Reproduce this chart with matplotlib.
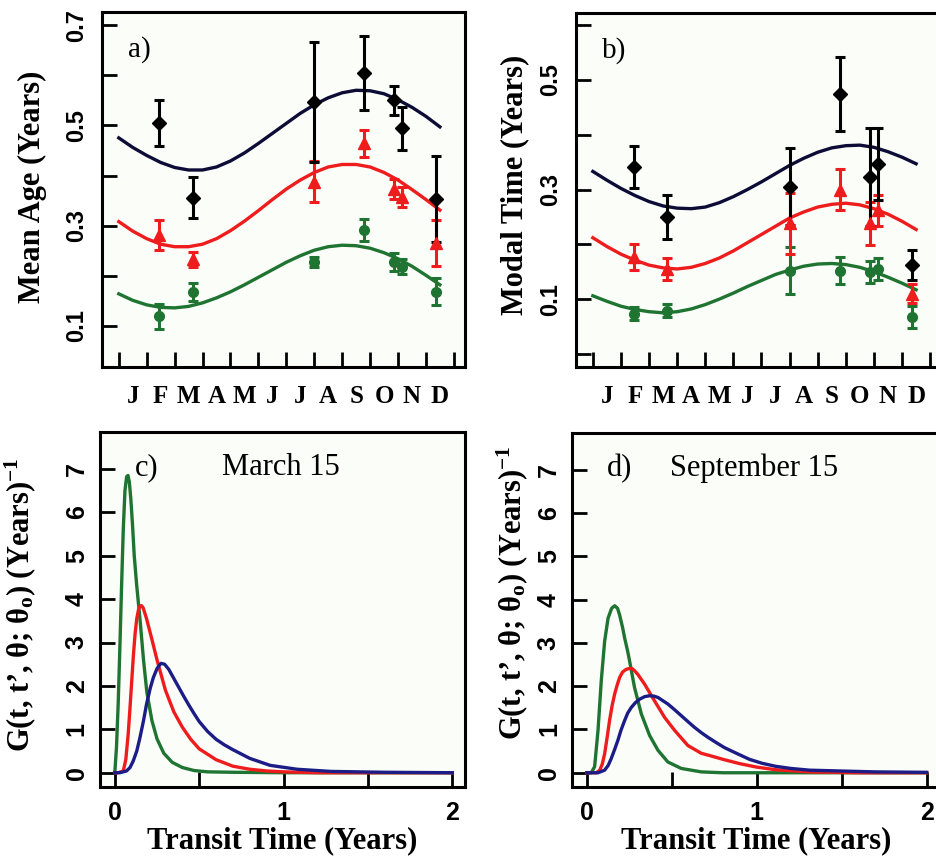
import numpy as np
import matplotlib
matplotlib.use("Agg")
import matplotlib.pyplot as plt

# ===== Data ================================

# months since Jan 1 (0 = Jan 1, 12 = Dec 31)
fit_month = [0, 0.5, 1, 1.5, 2, 2.5, 3, 3.5, 4, 4.5, 5, 5.5, 6, 6.5, 7, 7.5,
             8, 8.5, 9, 9.5, 10, 10.5, 11, 11.5]
obs_month = [1.45, 2.65, 7.0, 8.78, 9.86, 10.15, 11.35]

# a) mean age
a_fit_black = [0.475, 0.456, 0.440, 0.426, 0.416, 0.411, 0.411, 0.417, 0.429, 0.445, 0.464, 0.484,
               0.504, 0.524, 0.541, 0.555, 0.565, 0.570, 0.569, 0.563, 0.551, 0.536, 0.518, 0.497]
a_fit_red = [0.308, 0.289, 0.274, 0.263, 0.258, 0.258, 0.263, 0.274, 0.290, 0.309, 0.330, 0.352,
             0.373, 0.391, 0.406, 0.417, 0.422, 0.422, 0.417, 0.406, 0.391, 0.372, 0.352, 0.331]
a_fit_green = [0.164, 0.151, 0.142, 0.137, 0.136, 0.139, 0.146, 0.156, 0.168, 0.182, 0.197, 0.212,
               0.227, 0.240, 0.251, 0.258, 0.261, 0.260, 0.255, 0.246, 0.234, 0.219, 0.201, 0.182]
a_obs_black = [0.505, 0.356, 0.547, 0.605, 0.550, 0.494, 0.353]
a_err_black = [0.046, 0.041, 0.120, 0.074, 0.029, 0.043, 0.086]
a_obs_red = [0.281, 0.233, 0.388, 0.464, 0.374, 0.358, 0.265]
a_err_red = [0.030, 0.015, 0.040, 0.027, 0.020, 0.020, 0.046]
a_obs_green = [0.119, 0.167, 0.228, 0.291, 0.228, 0.218, 0.168]
a_err_green = [0.025, 0.018, 0.010, 0.022, 0.018, 0.015, 0.027]

# b) modal time
b_fit_black = [0.333, 0.317, 0.302, 0.289, 0.278, 0.270, 0.266, 0.265, 0.268, 0.276, 0.287, 0.300,
               0.314, 0.329, 0.344, 0.357, 0.368, 0.376, 0.380, 0.381, 0.377, 0.369, 0.359, 0.347]
b_fit_red = [0.212, 0.196, 0.182, 0.171, 0.162, 0.157, 0.155, 0.158, 0.165, 0.175, 0.188, 0.203,
             0.218, 0.233, 0.248, 0.259, 0.268, 0.273, 0.275, 0.272, 0.265, 0.255, 0.242, 0.227]
b_fit_green = [0.106, 0.096, 0.087, 0.081, 0.077, 0.075, 0.077, 0.082, 0.090, 0.100, 0.111, 0.123,
               0.134, 0.145, 0.153, 0.160, 0.164, 0.165, 0.163, 0.158, 0.150, 0.140, 0.129, 0.117]
b_obs_black = [0.341, 0.250, 0.305, 0.474, 0.323, 0.346, 0.162]
b_err_black = [0.039, 0.040, 0.070, 0.067, 0.089, 0.066, 0.028]
b_obs_red = [0.177, 0.155, 0.238, 0.300, 0.238, 0.262, 0.110]
b_err_red = [0.023, 0.020, 0.056, 0.037, 0.040, 0.028, 0.018]
b_obs_green = [0.073, 0.079, 0.152, 0.152, 0.149, 0.155, 0.067]
b_err_green = [0.012, 0.012, 0.043, 0.024, 0.020, 0.020, 0.020]

# c) March 15 transit time distributions
c_t_green = [0, 0.01, 0.02, 0.03, 0.04, 0.05, 0.06, 0.07, 0.078, 0.086, 0.095, 0.105, 0.115, 0.13,
             0.15, 0.17, 0.19, 0.22, 0.25, 0.29, 0.34, 0.40, 0.47, 0.55, 0.7, 1.0, 1.5, 2.0]
c_g_green = [0.0, 0.6, 1.6, 2.9, 4.3, 5.6, 6.5, 6.82, 6.85, 6.7, 6.3, 5.7, 5.0, 4.3,
             3.5, 2.6, 1.85, 1.2, 0.78, 0.45, 0.24, 0.12, 0.05, 0.02, 0.01, 0.0, 0.0, 0.0]
c_t_red = [0, 0.02, 0.05, 0.065, 0.079, 0.09, 0.099, 0.11, 0.12, 0.13, 0.14, 0.15, 0.158, 0.168,
           0.188, 0.218, 0.25, 0.30, 0.35, 0.40, 0.45, 0.5, 0.6, 0.7, 0.8, 0.9, 1.0, 1.2, 1.5, 2.0]
c_g_red = [0, 0, 0.04, 0.3, 0.88, 1.5, 2.04, 2.7, 3.2, 3.55, 3.75, 3.84, 3.85, 3.8,
           3.55, 3.1, 2.6, 1.9, 1.4, 1.05, 0.77, 0.55, 0.3, 0.15, 0.08, 0.04, 0.02, 0.0, 0.0, 0.0]
c_t_blue = [0, 0.03, 0.069, 0.09, 0.109, 0.13, 0.149, 0.17, 0.188, 0.21, 0.228, 0.25, 0.273, 0.295,
            0.32, 0.347, 0.38, 0.41, 0.44, 0.47, 0.5, 0.55, 0.6, 0.65, 0.7, 0.75, 0.8, 0.92, 1.08,
            1.28, 1.6, 2.0]
c_g_blue = [0, 0, 0.04, 0.12, 0.27, 0.5, 0.81, 1.2, 1.58, 1.95, 2.19, 2.4, 2.52, 2.5,
            2.38, 2.19, 1.96, 1.75, 1.55, 1.36, 1.18, 0.95, 0.77, 0.64, 0.53, 0.43, 0.33, 0.17, 0.08,
            0.03, 0.01, 0.0]

# d) September 15 transit time distributions
d_t_green = [0, 0.025, 0.045, 0.065, 0.084, 0.104, 0.124, 0.145, 0.163, 0.18, 0.192, 0.21, 0.222,
             0.24, 0.251, 0.28, 0.32, 0.369, 0.418, 0.476, 0.555, 0.673, 0.8, 1.0, 1.5, 2.0]
d_g_green = [0, 0, 0.14, 0.98, 2.12, 3.04, 3.57, 3.8, 3.86, 3.8, 3.65, 3.35, 3.11,
             2.8, 2.58, 1.97, 1.36, 0.86, 0.52, 0.25, 0.1, 0.02, 0.0, 0.0, 0.0, 0.0]
d_t_red = [0, 0.055, 0.075, 0.09, 0.104, 0.12, 0.133, 0.148, 0.163, 0.178, 0.192, 0.21, 0.231,
           0.25, 0.265, 0.28, 0.3, 0.339, 0.398, 0.457, 0.516, 0.594, 0.673, 0.72, 0.81, 0.9, 1.0,
           1.11, 1.31, 1.6, 2.0]
d_g_red = [0, 0, 0.06, 0.2, 0.44, 0.85, 1.21, 1.55, 1.82, 2.03, 2.2, 2.33, 2.39,
           2.41, 2.41, 2.36, 2.27, 2.05, 1.66, 1.28, 0.98, 0.63, 0.45, 0.4, 0.3, 0.21, 0.13,
           0.07, 0.02, 0.0, 0.0]
d_t_blue = [0, 0.065, 0.104, 0.125, 0.143, 0.162, 0.182, 0.2, 0.222, 0.24, 0.261, 0.285, 0.31,
            0.34, 0.369, 0.395, 0.418, 0.445, 0.476, 0.515, 0.555, 0.595, 0.633, 0.672, 0.712,
            0.76, 0.81, 0.88, 0.957, 1.03, 1.11, 1.2, 1.31, 1.5, 1.7, 2.0]
d_g_blue = [0, 0, 0.06, 0.17, 0.33, 0.53, 0.75, 0.98, 1.21, 1.38, 1.51, 1.62, 1.7,
            1.76, 1.78, 1.77, 1.74, 1.67, 1.59, 1.46, 1.32, 1.18, 1.05, 0.93, 0.82,
            0.7, 0.58, 0.45, 0.31, 0.22, 0.15, 0.1, 0.06, 0.04, 0.02, 0.01]

month_letters = ["J", "F", "M", "A", "M", "J", "J", "A", "S", "O", "N", "D"]

# ===== Style ============
NAVY = "#0c0c36"
BLUE = "#1c1c86"
RED = "#ee1c1c"
GREEN = "#1f7432"
SERIF = "Liberation Serif"
SANS = "Liberation Sans"

plt.rcParams["font.family"] = SANS
plt.rcParams["font.weight"] = "bold"
plt.rcParams["mathtext.fontset"] = "custom"
plt.rcParams["mathtext.rm"] = "Liberation Serif:bold"
plt.rcParams["mathtext.it"] = "Liberation Serif:bold"
plt.rcParams["axes.linewidth"] = 2.2


def style_axes(ax, size):
    ax.set_facecolor("#fbfdf9")
    ax.tick_params(which="major", direction="in", length=11, width=2, color="black",
                   labelsize=size)
    ax.tick_params(axis="y", labelrotation=90, pad=10)
    for lab in ax.get_yticklabels():
        lab.set_va("center")


def seasonal_panel(ax, fits, obs, ylabel, ylim, yticks, ylabels, tag, label_x, label_y):
    for (fit, col) in fits:
        ax.plot(fit_month, fit, color=col, lw=2.4, zorder=2)
    for (vals, errs, col, mk, ms) in obs:
        ax.errorbar(obs_month, vals, yerr=errs, fmt=mk, color=col, ms=ms, elinewidth=2.2,
                    capsize=3.8, capthick=2.2, zorder=3)
    ax.set_xlim(-0.6, 12.4)
    ax.set_ylim(*ylim)
    ax.set_xticks(range(13))
    ax.set_xticklabels([])
    ax.set_xticks(np.arange(12) + 0.5, month_letters, minor=True)
    ax.tick_params(axis="x", which="minor", length=0, pad=13, labelsize=18,
                   labelfontfamily=SERIF)
    ax.set_yticks(yticks)
    ax.set_yticklabels(ylabels)
    style_axes(ax, 17)
    ax.set_ylabel(ylabel, fontfamily=SERIF, fontweight="bold", fontsize=22)
    ax.yaxis.set_label_coords(label_x, label_y)
    ax.text(0.072, 0.895, tag, transform=ax.transAxes, fontfamily=SERIF, fontweight="normal",
            fontsize=21, va="center", ha="left")


def transit_panel(ax, curves, tag, title, title_x, label_x, label_y):
    for (t, g, col) in curves:
        ax.plot(t, g, color=col, lw=2.4)
    ax.set_xlim(-0.088, 2.075)
    ax.set_ylim(-0.33, 7.85)
    ax.set_xticks([0, 0.5, 1, 1.5, 2])
    ax.set_xticklabels(["0", "", "1", "", "2"])
    ax.set_yticks(range(8))
    ax.set_yticklabels([str(i) for i in range(8)])
    style_axes(ax, 18)
    ax.tick_params(axis="x", pad=10)
    ax.tick_params(axis="y", pad=8)
    ax.set_xlabel("Transit Time (Years)", fontfamily=SERIF, fontweight="bold", fontsize=22,
                  va="top")
    ax.xaxis.set_label_coords(0.5, -0.11)
    ax.set_ylabel("G(t, t’, θ; θ$_\\mathrm{o}$) (Years)$^{-1}$", fontfamily=SERIF,
                  fontweight="bold", fontsize=22)
    ax.yaxis.set_label_coords(label_x, label_y)
    ax.text(0.096, 0.9, tag, transform=ax.transAxes, fontfamily=SERIF, fontweight="normal",
            fontsize=22, va="center", ha="left")
    ax.text(title_x, 0.9, title, transform=ax.transAxes, fontfamily=SERIF, fontweight="normal",
            fontsize=22, va="center", ha="left")


if __name__ == "__main__":
    fig = plt.figure(figsize=(9.37, 8.61), dpi=100)

    ax_a = fig.add_axes([0.1089, 0.5737, 0.3874, 0.4123])
    ax_b = fig.add_axes([0.6147, 0.5737, 0.3900, 0.4111])
    ax_c = fig.add_axes([0.1067, 0.0859, 0.3895, 0.4123])
    ax_d = fig.add_axes([0.6105, 0.0859, 0.3920, 0.4111])

    seasonal_panel(ax_a,
                   [(a_fit_green, GREEN), (a_fit_red, RED), (a_fit_black, NAVY)],
                   [(a_obs_green, a_err_green, GREEN, "o", 7),
                    (a_obs_red, a_err_red, RED, "^", 8.5),
                    (a_obs_black, a_err_black, "black", "D", 7)],
                   "Mean Age (Years)", (0.018, 0.726),
                   [0.1, 0.2, 0.3, 0.4, 0.5, 0.6, 0.7],
                   ["0.1", "", "0.3", "", "0.5", "", "0.7"], "a)", -0.152, 0.507)

    seasonal_panel(ax_b,
                   [(b_fit_green, GREEN), (b_fit_red, RED), (b_fit_black, NAVY)],
                   [(b_obs_green, b_err_green, GREEN, "o", 7),
                    (b_obs_red, b_err_red, RED, "^", 8.5),
                    (b_obs_black, b_err_black, "black", "D", 7)],
                   "Modal Time (Years)", (-0.024, 0.622),
                   [0.0, 0.1, 0.2, 0.3, 0.4, 0.5, 0.6],
                   ["", "0.1", "", "0.3", "", "0.5", ""], "b)", -0.127, 0.515)

    transit_panel(ax_c,
                  [(c_t_green, c_g_green, GREEN), (c_t_red, c_g_red, RED),
                   (c_t_blue, c_g_blue, BLUE)],
                  "c)", "March 15", 0.334, -0.17, 0.513)

    transit_panel(ax_d,
                  [(d_t_green, d_g_green, GREEN), (d_t_red, d_g_red, RED),
                   (d_t_blue, d_g_blue, BLUE)],
                  "d)", "September 15", 0.267, -0.114, 0.55)

    fig.savefig("out.png", dpi=100)
